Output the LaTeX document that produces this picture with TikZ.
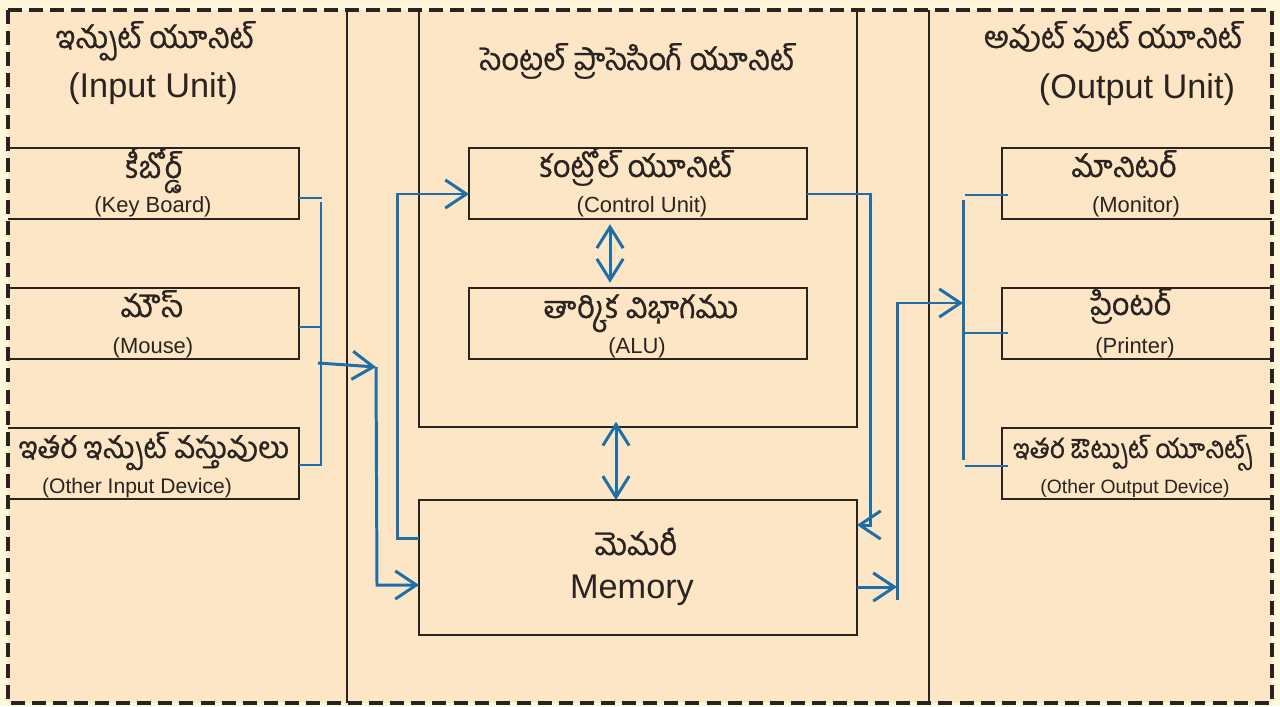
\documentclass[tikz,border=0pt]{standalone}
\usepackage{fontspec}
\setmainfont{Liberation Sans}
\newfontfamily\tel[Script=Telugu,FakeBold=0.8]{Hind Guntur}
\usetikzlibrary{arrows.meta,calc}
\definecolor{peach}{HTML}{FDE6C6}
\definecolor{cream}{HTML}{FFF8DC}
\definecolor{blu}{HTML}{1E6EA8}
\definecolor{ink}{HTML}{2A2420}
\begin{document}
\begin{tikzpicture}[x=0.02cm,y=-0.02cm,
  boxn/.style={inner sep=0,outer sep=0},
  boxline/.style={draw=ink,line width=1.1pt},
  sepline/.style={draw=ink,line width=0.9pt},
  tel/.style={font=\tel\fontsize{17.5}{20}\selectfont,anchor=base,inner sep=0,text=ink},
  eng/.style={font=\fontsize{12.5}{15}\selectfont,anchor=base,inner sep=0,text=ink},
  big/.style={font=\fontsize{19.5}{23}\selectfont,anchor=base,inner sep=0,text=ink},
  conn/.style={draw=blu,line width=1.7pt},
  stub/.style={draw=blu,line width=1.3pt},
  arr/.style={-{Straight Barb[length=12pt,width=16pt]}},
  darr/.style={{Straight Barb[length=12pt,width=15pt]}-{Straight Barb[length=12pt,width=15pt]}}
]
\useasboundingbox (0,0) rectangle (1280,706);
\fill[cream] (0,0) rectangle (1280,706);
\fill[peach] (8,10) rectangle (1272,703);

% column separators
\draw[sepline] (347,10) -- (347,703);
\draw[sepline] (929,10) -- (929,703);

% CPU region
\node[boxn,minimum width=8.76cm,minimum height=8.34cm] (cpu) at (638,218.5) {};
\draw[boxline] (cpu.north west) -- (cpu.south west) -- (cpu.south east) -- (cpu.north east);

% input boxes
\node[boxn,minimum width=5.82cm,minimum height=1.42cm] (kb) at (153.5,183.5) {};
\node[boxn,minimum width=5.82cm,minimum height=1.42cm] (ms) at (153.5,323.5) {};
\node[boxn,minimum width=5.82cm,minimum height=1.42cm] (oin) at (153.5,463.5) {};
\foreach \b in {kb,ms,oin}
  \draw[boxline] (\b.north west) -- (\b.north east) -- (\b.south east) -- (\b.south west);

% cpu boxes
\node[boxn,draw=ink,line width=1.1pt,minimum width=6.76cm,minimum height=1.42cm] (cu) at (638,183.5) {};
\node[boxn,draw=ink,line width=1.1pt,minimum width=6.76cm,minimum height=1.42cm] (alu) at (638,323.5) {};
\node[boxn,draw=ink,line width=1.1pt,minimum width=8.76cm,minimum height=2.7cm] (mem) at (638,567.5) {};

% output boxes
\node[boxn,minimum width=5.4cm,minimum height=1.42cm] (mon) at (1137,183.5) {};
\node[boxn,minimum width=5.4cm,minimum height=1.42cm] (prn) at (1137,323.5) {};
\node[boxn,minimum width=5.4cm,minimum height=1.42cm] (oout) at (1137,463.5) {};
\foreach \b in {mon,prn,oout}
  \draw[boxline] (\b.north east) -- (\b.north west) -- (\b.south west) -- (\b.south east);

% outer dashed border
\draw[ink,line width=2.3pt,dash pattern=on 8pt off 4pt] (8,10) rectangle (1272,703);

% headings
\node[tel] (inT) at (155,48) {ఇన్పుట్ యూనిట్};
\node[big] (inE) at (153,97) {(Input Unit)};
\node[tel] (cpuT) at (637,70) {సెంట్రల్ ప్రాసెసింగ్ యూనిట్};
\node[tel] (outT) at (1113,48) {అవుట్ పుట్ యూనిట్};
\node[big] (outE) at (1137,98) {(Output Unit)};

% box texts
\node[tel] (kbT) at (154,178) {కీబోర్డ్};
\node[eng] (kbE) at (153,212) {(Key Board)};
\node[tel] (msT) at (152,317) {మౌస్};
\node[eng] (msE) at (153,353) {(Mouse)};
\node[tel,font=\tel\fontsize{17}{20}\selectfont] (oinT) at (154,458) {ఇతర ఇన్పుట్ వస్తువులు};
\node[eng,font=\fontsize{12}{14}\selectfont] (oinE) at (137,493) {(Other Input Device)};
\node[tel] (cuT) at (636,177) {కంట్రోల్ యూనిట్};
\node[eng] (cuE) at (642,212) {(Control Unit)};
\node[tel] (aluT) at (641,318) {తార్కిక విభాగము};
\node[eng] (aluE) at (637,353) {(ALU)};
\node[tel] (memT) at (636,555) {మెమరీ};
\node[big] (memE) at (632,598) {Memory};
\node[tel] (monT) at (1124,177) {మానిటర్};
\node[eng] (monE) at (1136,212) {(Monitor)};
\node[tel] (prnT) at (1131,315) {ప్రింటర్};
\node[eng] (prnE) at (1135,353) {(Printer)};
\node[tel,font=\tel\fontsize{15}{18}\selectfont] (ooutT) at (1133,458) {ఇతర ఔట్పుట్ యూనిట్స్};
\node[eng,font=\fontsize{11}{13}\selectfont] (ooutE) at (1135,493) {(Other Output Device)};

% input bus
\coordinate (ib1) at (322,198);
\coordinate (ib2) at (322,327);
\coordinate (ib3) at (322,465);
\draw[stub] (kb.east |- ib1) -- (ib1);
\draw[stub] (ms.east |- ib2) -- (ib2);
\draw[stub] (oin.east |- ib3) -- (ib3);
\draw[conn] ($(ib1)+(-1,4)$) -- ($(ib3)+(-1,0)$);
\coordinate (ia) at (318,363);
\coordinate (ib) at (376,367);
\coordinate (ic) at (377,585);
\draw[conn,arr] (ia) -- (ib);
\draw[conn,arr] (ib) -- (ic) -- (mem.west |- ic);

% memory -> control unit
\coordinate (fb1) at (397,538);
\coordinate (fb2) at (397,194);
\draw[conn,arr] (mem.west |- fb1) -- (fb1) -- (fb2) -- (cu.west |- fb2);

% CU <-> ALU, CPU <-> memory
\coordinate (x1) at (610,0);
\coordinate (x2) at (616,0);
\draw[conn,darr,shorten <=3pt,shorten >=3pt] (cu.south -| x1) -- (alu.north -| x1);
\draw[conn,darr,shorten <=-3pt] (cpu.south -| x2) -- (mem.north -| x2);

% CU -> memory
\coordinate (cm1) at (870,194);
\coordinate (cm2) at (870,525);
\draw[conn,arr] (cu.east |- cm1) -- (cm1) -- (cm2) -- (mem.east |- cm2);

% memory -> output
\coordinate (mo1) at (897,587);
\coordinate (mo2) at (897,600);
\coordinate (mo3) at (897,303);
\coordinate (mo4) at (963,303);
\draw[conn,arr] (mem.east |- mo1) -- (mo1);
\draw[conn,arr] (mo2) -- (mo3) -- (mo4);

% output bus
\coordinate (obt) at (963,200);
\coordinate (obb) at (963,460);
\draw[conn] (obt) -- (obb);
\coordinate (os1) at (1008,195);
\coordinate (os2) at (1008,333);
\coordinate (os3) at (1008,466);
\draw[stub] ($(obt |- os1)+(2,0)$) -- (os1);
\draw[stub] (obt |- os2) -- (os2);
\draw[stub] ($(obt |- os3)+(2,0)$) -- (os3);
\end{tikzpicture}
\end{document}
